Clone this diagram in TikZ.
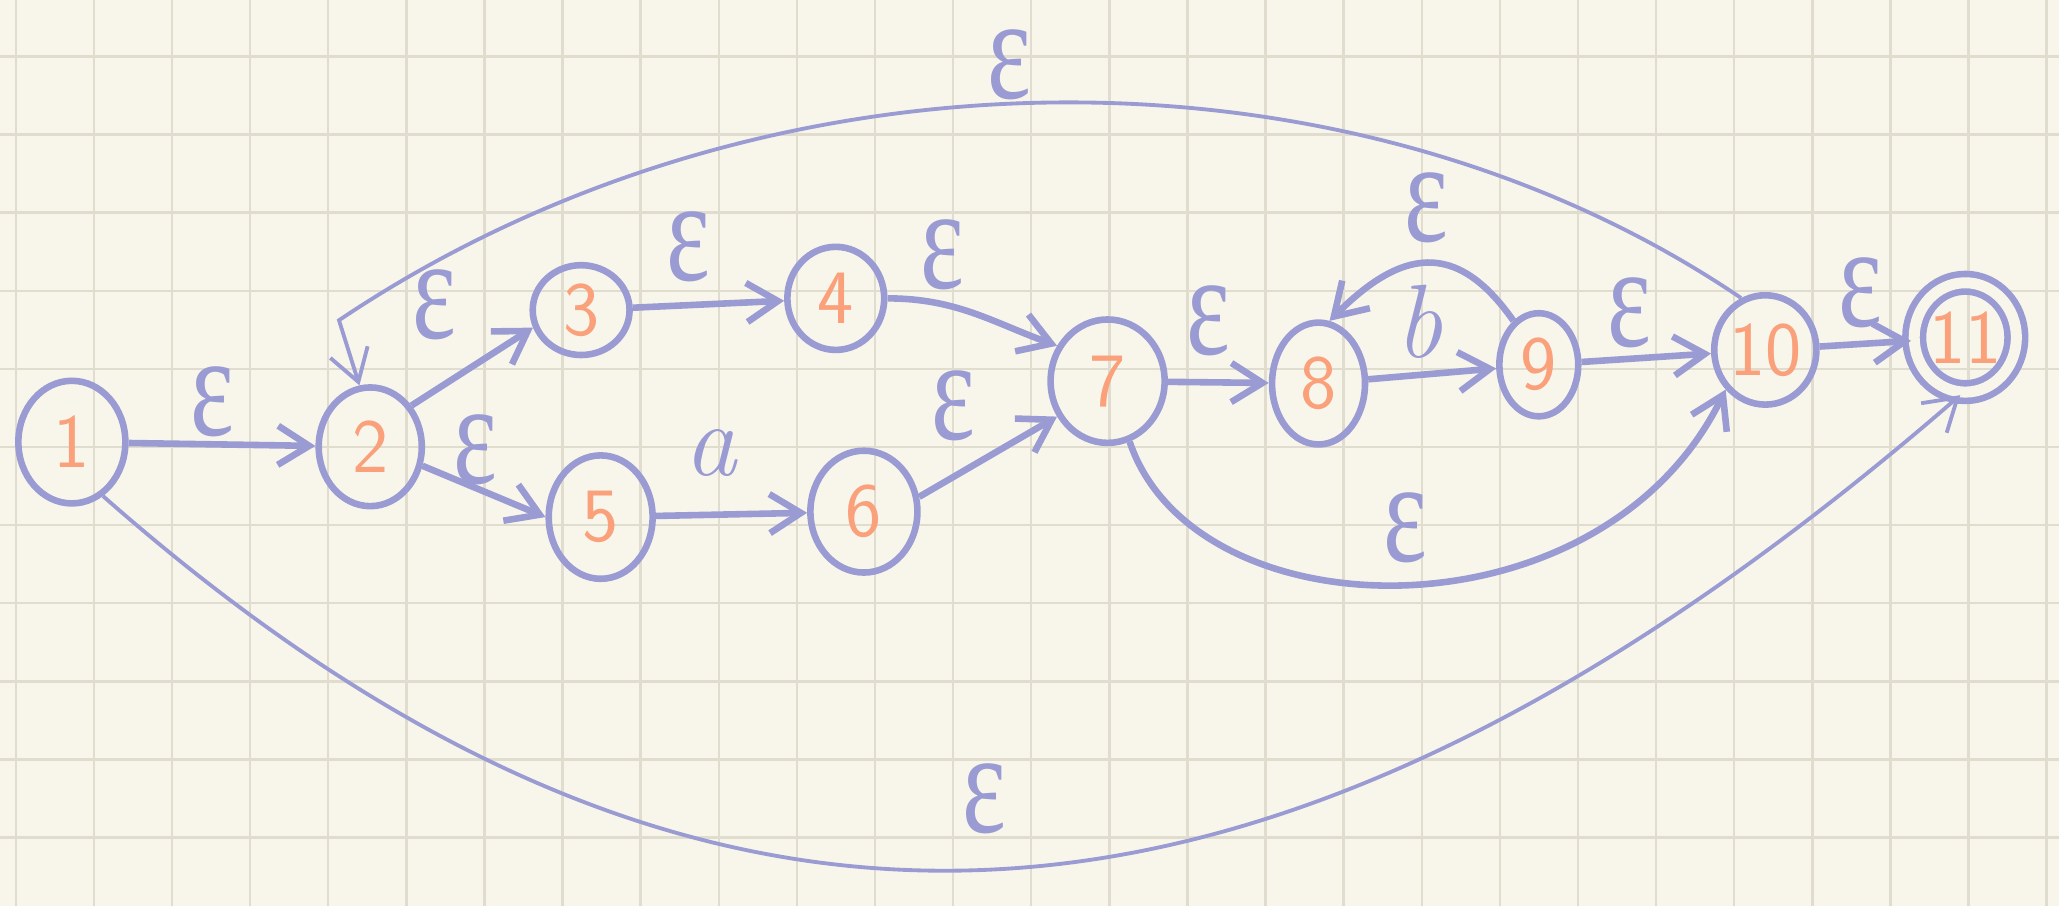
\documentclass[tikz,border=0pt]{standalone}
\usepackage{fontspec}
\usepackage{graphicx}
\usetikzlibrary{shapes.geometric,arrows.meta}
\newfontfamily\greekfont{Liberation Serif}
\definecolor{paper}{RGB}{248,246,235}
\definecolor{gridline}{RGB}{224,221,207}
\definecolor{penblue}{RGB}{155,155,211}
\definecolor{penorange}{RGB}{250,160,122}
\newcommand{\eps}{\scalebox{1}[1.4]{\greekfont ε}}

\begin{document}
\begin{tikzpicture}
	\tikzstyle{statenode}=[ellipse,draw=penblue,line width=2.4pt,text=penorange,font=\fontsize{28}{28}\selectfont\sffamily,inner sep=0pt]
	\tikzstyle{edge}=[draw=penblue,line width=2.4pt,-{Straight Barb[length=4mm,width=5mm]}]
	\tikzstyle{longedge}=[edge,line width=1.4pt]
	\tikzstyle{edgelabel}=[text=penblue,font=\fontsize{38}{38}\selectfont,inner sep=0pt]
	% squared paper
	\useasboundingbox (0,0) rectangle (26.36,11.6);
	\fill[paper] (0,0) rectangle (26.36,11.6);
	\foreach \x in {0,...,26} \draw[gridline,line width=0.9pt] (0.202+\x,0) -- (0.202+\x,11.6);
	\foreach \y in {0,...,10} \draw[gridline,line width=0.9pt] (0,10.877-\y) -- (26.36,10.877-\y);
	\begin{scope}
		\node [statenode,minimum width=1.37cm,minimum height=1.57cm] (s1) at (0.92,5.94) {1};
		\node [statenode,minimum width=1.32cm,minimum height=1.52cm] (s2) at (4.74,5.88) {2};
		\node [statenode,minimum width=1.24cm,minimum height=1.15cm] (s3) at (7.44,7.63) {3};
		\node [statenode,minimum width=1.24cm,minimum height=1.32cm] (s4) at (10.70,7.78) {4};
		\node [statenode,minimum width=1.33cm,minimum height=1.58cm] (s5) at (7.69,4.98) {5};
		\node [statenode,minimum width=1.37cm,minimum height=1.56cm] (s6) at (11.06,5.05) {6};
		\node [statenode,minimum width=1.46cm,minimum height=1.58cm] (s7) at (14.18,6.72) {7};
		\node [statenode,minimum width=1.19cm,minimum height=1.56cm] (s8) at (16.88,6.69) {8};
		\node [statenode,minimum width=1.01cm,minimum height=1.32cm] (s9) at (19.70,6.93) {9};
		\node [statenode,minimum width=1.24cm,minimum height=1.40cm] (s10) at (22.60,7.12) {10};
		\node [statenode,double=paper,double distance=4pt,minimum width=1.08cm,minimum height=1.40cm] (s11) at (25.16,7.28) {11};
		\coordinate (bend) at (4.34,7.50);
		\path[edge] (s1) -- node[edgelabel,pos=0.45,above=0.05cm] {\eps} (s2);
		\path[edge] (s2.45) -- node[edgelabel,pos=0.4,above left,yshift=0.4cm] {\eps} (s3.200);
		\path[edge] (s2.-20) -- node[edgelabel,pos=0.43,above] {\eps} (s5.180);
		\path[edge] (s3) -- node[edgelabel,pos=0.37,above=0.26cm] {\eps} (s4);
		\path[edge] (s5) -- node[edgelabel,pos=0.36,above=0.45cm] {\itshape a} (s6);
		\path[edge] (s4.east) to[out=0,in=160] node[edgelabel,pos=0.3,above=0.14cm] {\eps} (s7.145);
		\path[edge] (s6.15) -- node[edgelabel,pos=0.25,above=0.42cm] {\eps} (s7.215);
		\path[edge] (s7) -- node[edgelabel,pos=0.4,above=0.3cm] {\eps} (s8);
		\path[edge] (s8) -- node[edgelabel,pos=0.4,above=0.17cm] {\itshape b} (s9);
		\path[edge] (s9.120) to[out=125,in=45,looseness=1.4] node[edgelabel,above=0.22cm] {\eps} (s8.80);
		\path[edge] (s9) -- node[edgelabel,pos=0.37,above=0.1cm] {\eps} (s10);
		\path[edge] (s10) -- node[edgelabel,pos=0.45,above=0.16cm] {\eps} (s11);
		\path[edge] (s7.-70) .. controls (15.3,3.45) and (20.5,3.35) .. node[edgelabel,above=0.23cm] {\eps} (s10.225);
		\path[longedge] (s10.115) .. controls (17.3,11.17) and (9.8,11.17) .. node[edgelabel,pos=0.53,above=0.03cm] {\eps} (bend) -- (s2.100);
		\path[longedge] (s1.-60) .. controls (8.8,-1.34) and (16.0,-1.34) .. node[edgelabel,above=0.43cm] {\eps} (s11.265);
	\end{scope}
\end{tikzpicture}
\end{document}
